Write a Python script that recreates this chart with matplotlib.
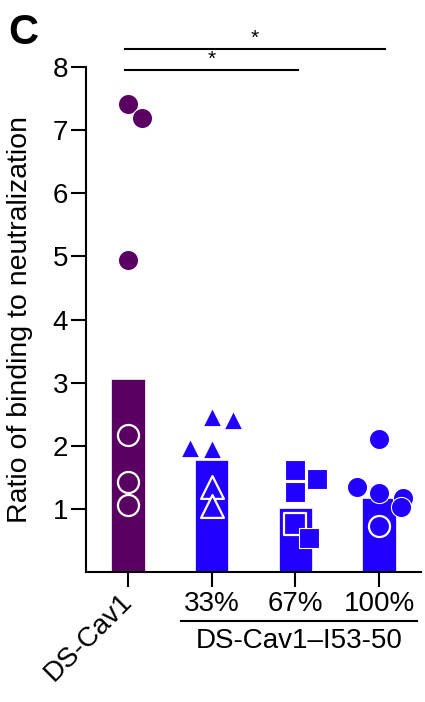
import matplotlib
matplotlib.use("Agg")
import matplotlib.pyplot as plt
from matplotlib.transforms import ScaledTranslation

# ─────────────────────────────────────────────────────────────
# Data
# ─────────────────────────────────────────────────────────────
groups = ["DS-Cav1", "33%", "67%", "100%"]
bar_means = [3.05, 1.77, 1.01, 1.17]

filled_vals = [
    [7.42, 7.20, 4.95],
    [2.46, 2.41, 1.96, 1.94],
    [1.62, 1.47, 1.26, 0.53],
    [2.10, 1.34, 1.25, 1.17, 1.02],
]
open_vals = [
    [2.17, 1.43, 1.06],
    [1.35, 1.05],
    [0.76],
    [0.72],
]

# horizontal scatter of the points (category units)
filled_dx = [
    [0.0, 0.17, 0.0],
    [0.0, 0.26, -0.26, 0.0],
    [0.0, 0.26, 0.0, 0.16],
    [0.0, -0.26, 0.0, 0.28, 0.26],
]
open_dx = [
    [0.0, 0.0, 0.0],
    [0.0, 0.0],
    [0.0],
    [0.0],
]

markers = ["o", "^", "s", "o"]
purple = "#5a0062"
blue = "#2200ff"
colors = [purple, blue, blue, blue]

plt.rcParams["font.family"] = ["Liberation Sans", "DejaVu Sans"]

fig = plt.figure(figsize=(4.25, 7.02), dpi=100)
ax = fig.add_axes([0.2024, 0.1855, 0.7882, 0.7186])

x = list(range(len(groups)))
ax.bar(x, bar_means, width=0.4, color=colors, edgecolor="white", linewidth=0.5, zorder=1)

filled_size = {"o": 210, "^": 175, "s": 210}
open_size = {"o": 230, "^": 270, "s": 230}
for i in x:
    m = markers[i]
    ox = [i + d for d in open_dx[i]]
    ax.scatter(ox, open_vals[i], marker=m, s=open_size[m], facecolor=colors[i],
               edgecolor="white", linewidth=1.6, zorder=2, clip_on=False)
    fx = [i + d for d in filled_dx[i]]
    ax.scatter(fx, filled_vals[i], marker=m, s=filled_size[m], facecolor=colors[i],
               edgecolor="white", linewidth=0.8, zorder=3, clip_on=False)

# ─────────────────────────────────────────────────────────────
# Axes styling
# ─────────────────────────────────────────────────────────────
ax.set_xlim(-0.5, 3.5)
ax.set_ylim(0, 8)
ax.set_yticks([1, 2, 3, 4, 5, 6, 7, 8])
ax.set_xticks(x)
ax.set_xticklabels(groups)
for s in ["top", "right"]:
    ax.spines[s].set_visible(False)
for s in ["left", "bottom"]:
    ax.spines[s].set_linewidth(1.5)
ax.tick_params(axis="y", length=11, width=1.5, labelsize=20, pad=2)
ax.tick_params(axis="x", length=11, width=1.5, labelsize=20, pad=3)

lbl = ax.get_xticklabels()[0]
lbl.set_rotation(45)
lbl.set_ha("right")
lbl.set_va("top")
lbl.set_rotation_mode("anchor")
lbl.set_transform(lbl.get_transform() + ScaledTranslation(-0.09, 0.03, fig.dpi_scale_trans))

ax.set_ylabel("Ratio of binding to neutralization", fontsize=20.5)
ax.yaxis.set_label_coords(-0.158, 0.5)

# group bracket under percentages
tr = ax.get_xaxis_transform()
ax.plot([0.64, 3.45], [-0.0975, -0.0975], color="black", lw=1.5, transform=tr, clip_on=False)
ax.text(2.04, -0.137, "DS-Cav1\u2013I53-50", transform=tr, ha="center", va="center", fontsize=20)

# significance bars
ax.plot([-0.03, 2.03], [7.96, 7.96], color="black", lw=1.5, clip_on=False)
ax.plot([-0.03, 3.07], [8.29, 8.29], color="black", lw=1.5, clip_on=False)
ax.text(1.0, 7.98, "*", ha="center", va="bottom", fontsize=15)
ax.text(1.52, 8.31, "*", ha="center", va="bottom", fontsize=15)

fig.text(0.054, 0.953, "C", fontsize=30, fontweight="bold", ha="center", va="center")

fig.savefig("out.png", dpi=100)
